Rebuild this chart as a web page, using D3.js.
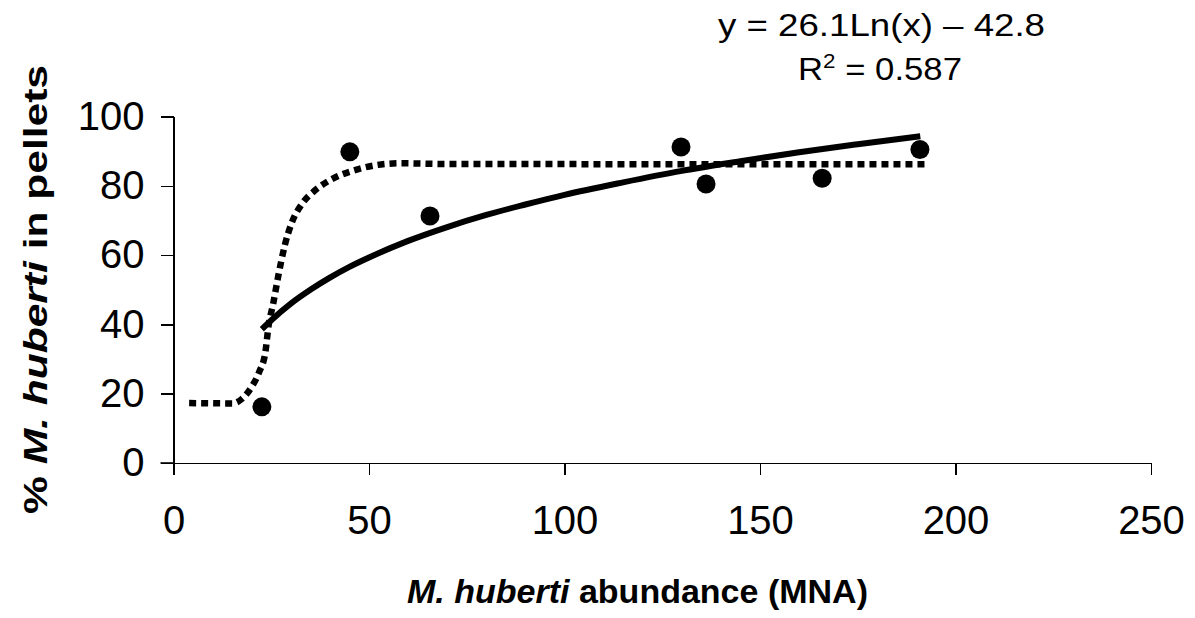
<!DOCTYPE html>
<html>
<head>
<meta charset="utf-8">
<title>M. huberti in pellets</title>
<style type="text/css">
body { margin: 0; background: #fff; }
svg text { font-family: "Liberation Sans", Arial, Helvetica, sans-serif; fill: #000; }
.axis path, .axis line { stroke: #000; stroke-width: 1.6px; shape-rendering: crispEdges; }
.axis text { font-size: 40px; }
.title { font-size: 34px; font-weight: bold; }
.eq { font-size: 31px; }
</style>
</head>
<body>
<div id="chart"></div>
<script src="https://d3js.org/d3.v7.min.js"></script>
<script type="text/javascript">

// observed points
var abundance = [22.6, 45.1, 65.6, 129.8, 136.2, 165.9, 190.9];
var pctPellets = [16.2, 89.8, 71.3, 91.2, 80.5, 82.2, 90.5];

// log trendline
var trendX = [22.6, 25, 30, 35, 40, 45, 50, 60, 70, 80, 90, 100, 115, 130, 145, 160, 175, 191];
var trendY = [38.6, 41.2, 46.0, 50.0, 53.5, 56.6, 59.3, 64.1, 68.1, 71.6, 74.6, 77.4, 81.0, 84.3, 87.1, 89.7, 92.0, 94.3];

// dotted sigmoid curve
var sigX = [4, 15, 17.5, 20, 22, 23.5, 24.3, 25.5, 26.8, 28.5, 30.2, 33, 36, 41, 46, 52, 58, 70, 192.5];
var sigY = [17.3, 17.2, 18.5, 22, 26.5, 32, 39.5, 46, 54, 63, 69.2, 75, 78.5, 82.2, 84.4, 86, 86.5, 86.3, 86.2];

var xTicks = [0, 50, 100, 150, 200, 250];
var yTicks = [0, 20, 40, 60, 80, 100];

var width = 1195, height = 618;

var svg = d3.select("#chart").append("svg")
    .attr("width", width)
    .attr("height", height);

var x = d3.scaleLinear().domain([0, 250]).range([173.5, 1151]);
var y = d3.scaleLinear().domain([0, 100]).range([463, 116.5]);

// axes
svg.append("g")
    .attr("class", "axis")
    .attr("transform", "translate(0," + y(0) + ")")
    .call(d3.axisBottom(x).tickValues(xTicks).tickSize(12).tickSizeOuter(0).tickPadding(31));

svg.append("g")
    .attr("class", "axis")
    .attr("transform", "translate(" + x(0) + ",0)")
    .call(d3.axisLeft(y).tickValues(yTicks).tickSize(13).tickSizeOuter(0).tickPadding(16));

// x axis extends left to meet the y=0 tick
svg.append("line")
    .attr("x1", x(0) - 13).attr("x2", x(0))
    .attr("y1", y(0)).attr("y2", y(0))
    .attr("stroke", "#000").attr("stroke-width", 1.6);

var curve = d3.line()
    .x(function(d) { return x(d[0]); })
    .y(function(d) { return y(d[1]); })
    .curve(d3.curveMonotoneX);

// dotted curve
svg.append("path")
    .datum(d3.zip(sigX, sigY))
    .attr("d", curve)
    .attr("fill", "none")
    .attr("stroke", "#000")
    .attr("stroke-width", 6.5)
    .attr("stroke-dasharray", "7,5");

// solid trend
svg.append("path")
    .datum(d3.zip(trendX, trendY))
    .attr("d", curve)
    .attr("fill", "none")
    .attr("stroke", "#000")
    .attr("stroke-width", 6);

// points
svg.selectAll("circle.pt")
    .data(d3.zip(abundance, pctPellets))
    .enter().append("circle")
    .attr("class", "pt")
    .attr("cx", function(d) { return x(d[0]); })
    .attr("cy", function(d) { return y(d[1]); })
    .attr("r", 9.5)
    .attr("fill", "#000");

// stretch a centred text to a given width, the original text is wider than Arial
function fit(t, w, tx, ty, rot) {
    var bw = t.node().getBBox().width;
    t.attr("transform", "translate(" + tx + "," + ty + ")" + (rot ? " rotate(" + rot + ")" : "") +
        " scale(" + (w / bw) + ",1)");
}

// equation
var eq = svg.append("text").attr("class", "eq")
    .attr("text-anchor", "middle")
    .text("y = 26.1Ln(x) \u2013 42.8");
fit(eq, 327, 881.5, 36);

var r2 = svg.append("text").attr("class", "eq")
    .attr("text-anchor", "middle");
r2.append("tspan").text("R");
r2.append("tspan").attr("font-size", "20px").attr("dy", -12).text("2");
r2.append("tspan").attr("dy", 12).text(" = 0.587");
fit(r2, 164, 880, 80);

// axis titles
var xt = svg.append("text").attr("class", "title")
    .attr("text-anchor", "middle");
xt.append("tspan").attr("font-style", "italic").text("M. huberti");
xt.append("tspan").text(" abundance (MNA)");
fit(xt, 461, 637.5, 603);

var yt = svg.append("text").attr("class", "title")
    .attr("font-size", "41px")
    .attr("text-anchor", "middle");
yt.append("tspan").text("% ");
yt.append("tspan").attr("font-style", "italic").text("M. huberti");
yt.append("tspan").text(" in pellets");
fit(yt, 449, 47, 289.5, -90);

</script>
</body>
</html>
